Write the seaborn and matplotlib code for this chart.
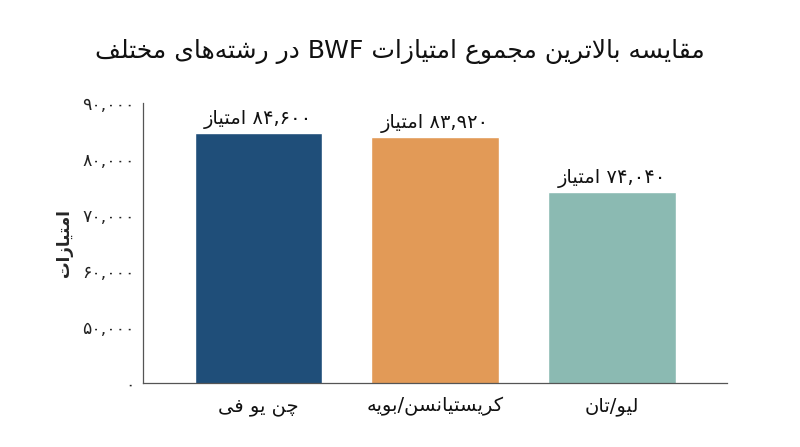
import matplotlib
matplotlib.use("Agg")
import matplotlib.pyplot as plt
import pandas as pd
import seaborn as sns
import re

# Dados do gráfico
categorias = ["چن یو فی", "کریستیانسن/بویه", "لیو/تان"]
pontos = [84600, 83920, 74040]
cores = ["#1f4e79", "#e29a57", "#8bbab2"]
ticks_y = [50000, 60000, 70000, 80000, 90000]
titulo = "مقایسه بالاترین مجموع امتیازات BWF در رشته‌های مختلف"
rotulo_y = "امتیازات"
sufixo = "امتیاز"

# matplotlib não faz shaping de árabe/persa, então converto para formas de apresentação
# (isolada, final, inicial, medial)
FORMAS = {
    "ا": ("\uFE8D", "\uFE8E", None, None),
    "ب": ("\uFE8F", "\uFE90", "\uFE91", "\uFE92"),
    "ت": ("\uFE95", "\uFE96", "\uFE97", "\uFE98"),
    "ج": ("\uFE9D", "\uFE9E", "\uFE9F", "\uFEA0"),
    "خ": ("\uFEA5", "\uFEA6", "\uFEA7", "\uFEA8"),
    "د": ("\uFEA9", "\uFEAA", None, None),
    "ر": ("\uFEAD", "\uFEAE", None, None),
    "ز": ("\uFEAF", "\uFEB0", None, None),
    "س": ("\uFEB1", "\uFEB2", "\uFEB3", "\uFEB4"),
    "ش": ("\uFEB5", "\uFEB6", "\uFEB7", "\uFEB8"),
    "ع": ("\uFEC9", "\uFECA", "\uFECB", "\uFECC"),
    "ف": ("\uFED1", "\uFED2", "\uFED3", "\uFED4"),
    "ق": ("\uFED5", "\uFED6", "\uFED7", "\uFED8"),
    "ل": ("\uFEDD", "\uFEDE", "\uFEDF", "\uFEE0"),
    "م": ("\uFEE1", "\uFEE2", "\uFEE3", "\uFEE4"),
    "ن": ("\uFEE5", "\uFEE6", "\uFEE7", "\uFEE8"),
    "ه": ("\uFEE9", "\uFEEA", "\uFEEB", "\uFEEC"),
    "و": ("\uFEED", "\uFEEE", None, None),
    "ی": ("\uFBFC", "\uFBFD", "\uFBFE", "\uFBFF"),
    "ک": ("\uFB8E", "\uFB8F", "\uFB90", "\uFB91"),
    "چ": ("\uFB7A", "\uFB7B", "\uFB7C", "\uFB7D"),
}
LAM_ALEF = ("\uFEFB", "\uFEFC")


def liga_frente(c):
    return c in FORMAS and FORMAS[c][2] is not None


def shape(texto):
    saida = []
    i = 0
    while i < len(texto):
        c = texto[i]
        ant = texto[i - 1] if i > 0 else ""
        prox = texto[i + 1] if i + 1 < len(texto) else ""
        if c not in FORMAS:
            if c != "\u200c":
                saida.append(c)
            i += 1
            continue
        liga_ant = liga_frente(ant)
        if c == "ل" and prox == "ا":
            saida.append(LAM_ALEF[1] if liga_ant else LAM_ALEF[0])
            i += 2
            continue
        liga_prox = liga_frente(c) and prox in FORMAS
        iso, fin, ini, med = FORMAS[c]
        if liga_ant and liga_prox:
            saida.append(med)
        elif liga_ant:
            saida.append(fin)
        elif liga_prox:
            saida.append(ini)
        else:
            saida.append(iso)
        i += 1
    return "".join(saida)


def rtl(texto):
    # Trechos LTR (latim, dígitos) ficam na ordem, o resto é invertido
    trechos = re.split(r"([A-Za-z0-9۰-۹,]+)", texto)
    visual = []
    for t in reversed(trechos):
        if re.fullmatch(r"[A-Za-z0-9۰-۹,]+", t or "-"):
            visual.append(t)
        else:
            visual.append(shape(t)[::-1])
    return "".join(visual)


def fa_num(v):
    return f"{v:,}".translate(str.maketrans("0123456789", "۰۱۲۳۴۵۶۷۸۹"))


df = pd.DataFrame({"categoria": categorias, "pontos": pontos})

sns.set_style("white")
plt.rcParams["font.family"] = ["DejaVu Sans"]

fig, ax = plt.subplots(figsize=(8, 4.47), dpi=100)
fig.subplots_adjust(left=0.179, right=0.909, bottom=0.143, top=0.770)

sns.barplot(
    data=df,
    x="categoria",
    y="pontos",
    hue="categoria",
    palette=cores,
    width=0.72,
    legend=False,
    saturation=1,
    ax=ax,
)

# Eixo "quebrado": a base do gráfico é 40.000, mas aparece como zero
base = 40000
ax.set_ylim(base, 90000)
ax.set_xlim(-0.65, 2.65)
ax.set_yticks([base] + ticks_y)
ax.set_yticklabels(["۰"] + [fa_num(v) for v in ticks_y], fontsize=12.5, color="#222222")
ax.set_xticks(range(len(categorias)))
ax.set_xticklabels([rtl(c) for c in categorias], fontsize=14, color="#111111")
ax.tick_params(axis="y", direction="in", length=8, width=0.9, color="#555555", pad=6)
ax.tick_params(axis="x", length=0, pad=10)

for lado in ["top", "right"]:
    ax.spines[lado].set_visible(False)
for lado in ["left", "bottom"]:
    ax.spines[lado].set_color("#555555")
    ax.spines[lado].set_linewidth(0.9)

ax.set_xlabel("")
ax.set_ylabel(rtl(rotulo_y), fontsize=12, fontweight="bold", labelpad=7)

for i, v in enumerate(pontos):
    ax.text(i, v + 700, rtl(fa_num(v) + " " + sufixo), ha="center", va="bottom",
            fontsize=14, color="#111111")

fig.text(0.5, 0.885, rtl(titulo), ha="center", va="center", fontsize=18, color="#111111")

fig.savefig("out.png", dpi=100)
